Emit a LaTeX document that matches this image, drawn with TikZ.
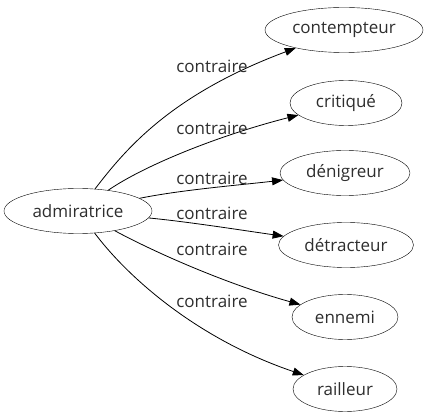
\documentclass[tikz,border=0pt]{standalone}
\usepackage{fontspec}
\setmainfont{Open Sans}
\usetikzlibrary{shapes.geometric,arrows.meta}
\begin{document}
\begin{tikzpicture}[x=1pt,y=-1pt,
  word/.style={draw,ellipse,inner sep=0pt,minimum height=45pt,font=\fontsize{17}{19}\selectfont,text=black!82},
  lab/.style={font=\fontsize{17}{19}\selectfont,text=black!82,inner sep=0pt},
  rel/.style={draw,line width=0.8pt,-{Triangle[length=11pt,width=8pt]}}]
\useasboundingbox (0,0) rectangle (430,419);
\node[word,minimum width=148pt] (a) at (78,211) {admiratrice};
\node[word,minimum width=158pt] (c1) at (344,30) {contempteur};
\node[word,minimum width=112pt] (c2) at (346,103) {critiqué};
\node[word,minimum width=130pt] (c3) at (345,173) {dénigreur};
\node[word,minimum width=135pt] (c4) at (346,245) {détracteur};
\node[word,minimum width=106pt] (c5) at (345,317) {ennemi};
\node[word,minimum width=104pt] (c6) at (345,389) {railleur};
\draw[rel] (a) .. controls (125,150) and (170,95) .. (c1);
\draw[rel] (a) .. controls (145,165) and (220,135) .. (c2);
\draw[rel] (a) .. controls (180,190) and (240,185) .. (c3);
\draw[rel] (a) .. controls (190,222) and (240,230) .. (c4);
\draw[rel] (a) .. controls (160,255) and (230,285) .. (c5);
\draw[rel] (a) .. controls (130,280) and (200,340) .. (c6);
\node[lab] (l1) at (212,66) {contraire};
\node[lab] (l2) at (212,128) {contraire};
\node[lab] (l3) at (212,178) {contraire};
\node[lab] (l4) at (212,213) {contraire};
\node[lab] (l5) at (212,249) {contraire};
\node[lab] (l6) at (212,301) {contraire};
\end{tikzpicture}
\end{document}
